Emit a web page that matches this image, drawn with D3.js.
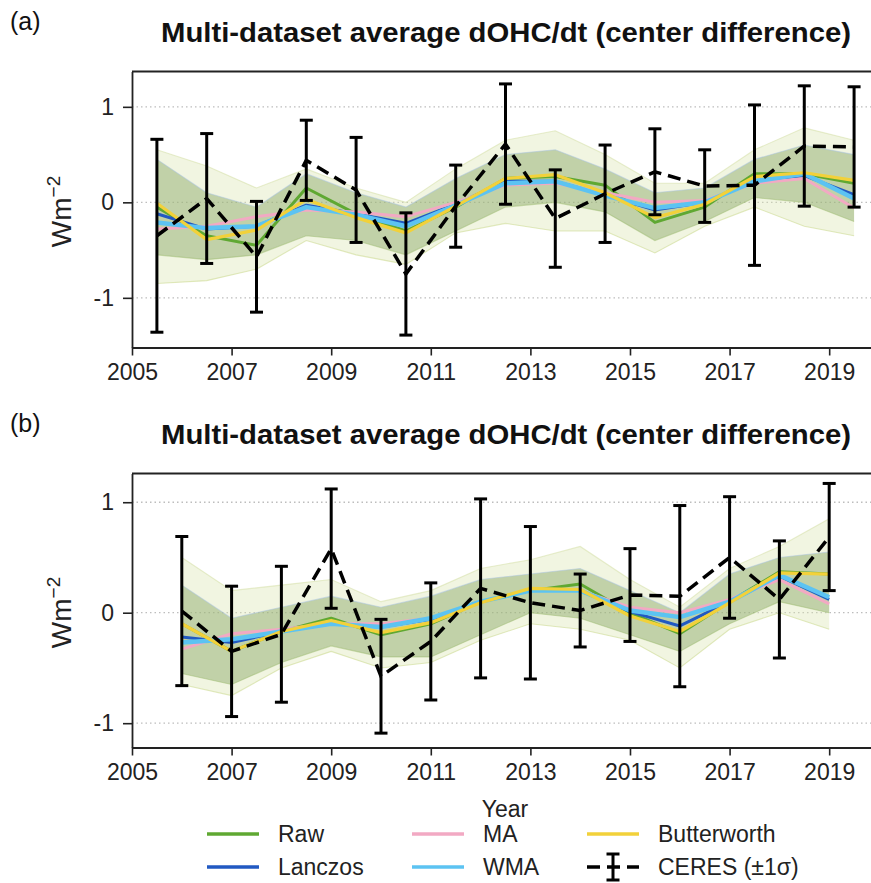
<!DOCTYPE html>
<html>
<head>
<meta charset="utf-8">
<script src="https://cdn.jsdelivr.net/npm/d3@7"></script>
<style>
  html, body { margin: 0; padding: 0; background: #fff; }
  svg { display: block; font-family: "Liberation Sans", Arial, sans-serif; }
</style>
</head>
<body>
<svg id="chart" width="871" height="883"></svg>
<script>
// ---- data ----
const yearsA = [2005.5, 2006.5, 2007.5, 2008.5, 2009.5, 2010.5, 2011.5, 2012.5, 2013.5, 2014.5, 2015.5, 2016.5, 2017.5, 2018.5, 2019.5];
const yearsB = [2006, 2007, 2008, 2009, 2010, 2011, 2012, 2013, 2014, 2015, 2016, 2017, 2018, 2019];

const rawA    = [-0.05, -0.35, -0.45, 0.15, -0.12, -0.30, -0.05, 0.25, 0.27, 0.18, -0.21, -0.05, 0.30, 0.30, 0.20];
const lanczA  = [-0.12, -0.28, -0.25, -0.03, -0.12, -0.22, -0.02, 0.22, 0.22, 0.08, -0.08, 0.00, 0.22, 0.28, 0.08];
const maA     = [-0.28, -0.25, -0.15, -0.08, -0.10, -0.15, 0.00, 0.18, 0.20, 0.10, 0.00, 0.02, 0.20, 0.25, -0.06];
const wmaA    = [-0.21, -0.27, -0.25, -0.05, -0.13, -0.25, -0.03, 0.20, 0.22, 0.07, -0.06, 0.00, 0.22, 0.30, 0.04];
const buttA   = [-0.01, -0.39, -0.29, 0.03, -0.16, -0.32, -0.04, 0.25, 0.29, 0.10, -0.16, -0.02, 0.27, 0.31, 0.23];
const ceresA  = [-0.35, 0.04, -0.57, 0.44, 0.13, -0.75, -0.04, 0.61, -0.17, 0.09, 0.32, 0.17, 0.18, 0.59, 0.58];
const sigmaA  = [1.01, 0.68, 0.58, 0.42, 0.55, 0.64, 0.43, 0.63, 0.51, 0.51, 0.45, 0.38, 0.84, 0.63, 0.63];
const innerLoA = [-0.55, -0.60, -0.55, -0.35, -0.40, -0.55, -0.30, -0.05, 0.00, -0.10, -0.40, -0.20, 0.05, 0.00, -0.20];
const innerHiA = [0.45, 0.10, -0.05, 0.30, 0.10, -0.05, 0.25, 0.50, 0.55, 0.35, 0.10, 0.15, 0.45, 0.60, 0.50];
const outerLoA = [-0.85, -0.82, -0.70, -0.40, -0.55, -0.65, -0.32, -0.22, -0.30, -0.30, -0.53, -0.25, -0.05, -0.25, -0.35];
const outerHiA = [0.55, 0.38, 0.15, 0.35, 0.15, 0.00, 0.35, 0.65, 0.75, 0.50, 0.20, 0.20, 0.55, 0.78, 0.65];

const rawB    = [-0.10, -0.35, -0.17, -0.05, -0.20, -0.10, 0.10, 0.20, 0.26, 0.00, -0.19, 0.10, 0.37, 0.35];
const lanczB  = [-0.22, -0.27, -0.17, -0.10, -0.13, -0.06, 0.10, 0.20, 0.20, 0.01, -0.12, 0.10, 0.33, 0.12];
const maB     = [-0.33, -0.19, -0.15, -0.10, -0.10, -0.05, 0.10, 0.20, 0.20, 0.05, 0.00, 0.12, 0.30, 0.08];
const wmaB    = [-0.27, -0.24, -0.17, -0.10, -0.13, -0.05, 0.10, 0.20, 0.20, 0.02, -0.04, 0.10, 0.34, 0.14];
const buttB   = [-0.10, -0.35, -0.17, -0.07, -0.18, -0.09, 0.09, 0.22, 0.21, -0.03, -0.17, 0.09, 0.36, 0.35];
const ceresB  = [0.015, -0.35, -0.195, 0.58, -0.575, -0.26, 0.22, 0.09, 0.02, 0.16, 0.15, 0.50, 0.12, 0.685];
const sigmaB  = [0.675, 0.59, 0.615, 0.54, 0.515, 0.53, 0.81, 0.69, 0.33, 0.42, 0.82, 0.55, 0.53, 0.485];
const innerLoB = [-0.55, -0.65, -0.45, -0.30, -0.40, -0.40, -0.20, 0.00, -0.05, -0.20, -0.35, -0.10, 0.10, 0.00];
const innerHiB = [0.25, -0.05, 0.05, 0.15, 0.05, 0.15, 0.30, 0.35, 0.40, 0.20, 0.00, 0.35, 0.50, 0.55];
const outerLoB = [-0.65, -0.75, -0.50, -0.35, -0.50, -0.45, -0.25, -0.10, -0.15, -0.25, -0.50, -0.15, 0.00, -0.15];
const outerHiB = [0.50, 0.20, 0.25, 0.30, 0.10, 0.20, 0.40, 0.48, 0.60, 0.30, 0.05, 0.40, 0.60, 0.85];

const xTicks = [2005, 2007, 2009, 2011, 2013, 2015, 2017, 2019];
const yTicks = [-1, 0, 1];
const title = 'Multi-dataset average dOHC/dt (center difference)';

const colors = {
    raw: '#5fa832',
    lanczos: '#2159c2',
    ma: '#f2a9c3',
    wma: '#5cc3f2',
    butter: '#f2d13a'
};

const svg = d3.select('#chart');

// shared x scale (right frame edge falls outside the picture)
const x = d3.scaleLinear().domain([2005, 2019.9]).range([132, 874]);

const panels = [
    { label: '(a)', top: 71.5, bottom: 347.5, domain: [-1.52, 1.37], years: yearsA,
      raw: rawA, lanczos: lanczA, ma: maA, wma: wmaA, butter: buttA,
      ceres: ceresA, sigma: sigmaA, inLo: innerLoA, inHi: innerHiA, outLo: outerLoA, outHi: outerHiA },
    { label: '(b)', top: 473.5, bottom: 747.5, domain: [-1.22, 1.26], years: yearsB,
      raw: rawB, lanczos: lanczB, ma: maB, wma: wmaB, butter: buttB,
      ceres: ceresB, sigma: sigmaB, inLo: innerLoB, inHi: innerHiB, outLo: outerLoB, outHi: outerHiB }
];

panels.forEach(p => {
    const y = d3.scaleLinear().domain(p.domain).range([p.bottom, p.top]);
    const g = svg.append('g');

    // panel label and title
    g.append('text').attr('x', 10).attr('y', p.top - 42)
        .attr('font-size', 25).attr('fill', '#111').text(p.label);
    g.append('text').attr('x', 506).attr('y', p.top - 30)
        .attr('text-anchor', 'middle').attr('font-size', 28).attr('font-weight', 'bold')
        .attr('textLength', 690).attr('lengthAdjust', 'spacingAndGlyphs')
        .attr('fill', '#111').text(title);

    // grid
    g.selectAll('.grid').data(yTicks).enter().append('line')
        .attr('x1', x.range()[0]).attr('x2', x.range()[1])
        .attr('y1', d => y(d)).attr('y2', d => y(d))
        .attr('stroke', '#bdbdbd').attr('stroke-width', 1.3).attr('stroke-dasharray', '1.5,3');

    const pts = p.years.map((yr, i) => i);

    // spread of individual datasets
    const area = (lo, hi) => d3.area().x(i => x(p.years[i])).y0(i => y(lo[i])).y1(i => y(hi[i]));
    g.append('path').attr('d', area(p.outLo, p.outHi)(pts))
        .attr('fill', '#dbe6b0').attr('opacity', 0.38);
    g.append('path').attr('d', area(p.inLo, p.inHi)(pts))
        .attr('fill', '#7fa05a').attr('opacity', 0.42);

    const line = vals => d3.line().x(i => x(p.years[i])).y(i => y(vals[i]))(pts);
    [[p.outLo, '#c5d682'], [p.outHi, '#d2deA0'], [p.inLo, '#9dbb70'], [p.inHi, '#a9c3e6']].forEach(([v, c]) => {
        g.append('path').attr('d', line(v)).attr('fill', 'none')
            .attr('stroke', c).attr('stroke-width', 1.1).attr('opacity', 0.5);
    });

    // method averages
    [['raw', 3], ['lanczos', 3], ['ma', 3], ['wma', 4.5], ['butter', 3.2]].forEach(([k, w]) => {
        g.append('path').attr('d', line(p[k])).attr('fill', 'none')
            .attr('stroke', colors[k]).attr('stroke-width', w).attr('stroke-linejoin', 'round');
    });

    // CERES with error bars
    g.append('path').attr('d', line(p.ceres)).attr('fill', 'none')
        .attr('stroke', '#000').attr('stroke-width', 3.5).attr('stroke-dasharray', '13,7');
    const eb = g.selectAll('.eb').data(pts).enter().append('g');
    eb.append('line')
        .attr('x1', i => x(p.years[i])).attr('x2', i => x(p.years[i]))
        .attr('y1', i => y(p.ceres[i] - p.sigma[i])).attr('y2', i => y(p.ceres[i] + p.sigma[i]))
        .attr('stroke', '#000').attr('stroke-width', 3);
    [-1, 1].forEach(s => {
        eb.append('line')
            .attr('x1', i => x(p.years[i]) - 6.5).attr('x2', i => x(p.years[i]) + 6.5)
            .attr('y1', i => y(p.ceres[i] + s * p.sigma[i])).attr('y2', i => y(p.ceres[i] + s * p.sigma[i]))
            .attr('stroke', '#000').attr('stroke-width', 3);
    });

    // frame: top and left
    g.append('line').attr('x1', x.range()[0]).attr('x2', x.range()[1])
        .attr('y1', p.top).attr('y2', p.top).attr('stroke', '#222').attr('stroke-width', 1.8);

    // axes
    const xAxis = d3.axisBottom(x).tickValues(xTicks).tickFormat(d3.format('d'))
        .tickSizeInner(8).tickSizeOuter(0).tickPadding(8);
    const xg = g.append('g').attr('transform', `translate(0,${p.bottom})`).call(xAxis);
    const yAxis = d3.axisLeft(y).tickValues(yTicks).tickFormat(d => d < 0 ? '-' + Math.abs(d) : d)
        .tickSizeInner(9).tickSizeOuter(0).tickPadding(9);
    const yg = g.append('g').attr('transform', `translate(${x.range()[0]},0)`).call(yAxis);
    [xg, yg].forEach(ax => {
        ax.select('.domain').attr('stroke', '#222').attr('stroke-width', 1.8);
        ax.selectAll('.tick line').attr('stroke', '#222').attr('stroke-width', 1.6);
        ax.selectAll('.tick text').attr('font-size', 23).attr('fill', '#222')
            .attr('font-family', '"Liberation Sans", Arial, sans-serif');
    });

    // y label
    const yl = g.append('text')
        .attr('transform', `translate(71,${(p.top + p.bottom) / 2 + 2}) rotate(-90)`)
        .attr('text-anchor', 'middle').attr('font-size', 28).attr('fill', '#222');
    yl.append('tspan').text('Wm');
    yl.append('tspan').attr('dy', -11).attr('font-size', 19).text('\u22122');
});

// x axis title (sits just above the middle legend column, as in the figure)
svg.append('text').attr('x', 505).attr('y', 817).attr('text-anchor', 'middle')
    .attr('font-size', 23).attr('fill', '#222').text('Year');

// legend
const legendItems = [
    { name: 'Raw', key: 'raw', col: 0, row: 0 },
    { name: 'Lanczos', key: 'lanczos', col: 0, row: 1 },
    { name: 'MA', key: 'ma', col: 1, row: 0 },
    { name: 'WMA', key: 'wma', col: 1, row: 1 },
    { name: 'Butterworth', key: 'butter', col: 2, row: 0 },
    { name: 'CERES (\u00b11\u03c3)', key: 'ceres', col: 2, row: 1 }
];
const colX = [207, 412, 587];
const rowY = [834, 867];
const lg = svg.append('g');
legendItems.forEach(it => {
    const x0 = colX[it.col], y0 = rowY[it.row];
    if (it.key === 'ceres') {
        lg.append('line').attr('x1', x0).attr('x2', x0 + 52).attr('y1', y0).attr('y2', y0)
            .attr('stroke', '#000').attr('stroke-width', 3.5).attr('stroke-dasharray', '13,7');
        const cx = x0 + 26;
        lg.append('line').attr('x1', cx).attr('x2', cx).attr('y1', y0 - 13).attr('y2', y0 + 13)
            .attr('stroke', '#000').attr('stroke-width', 3);
        [-13, 13].forEach(d => lg.append('line').attr('x1', cx - 6.5).attr('x2', cx + 6.5)
            .attr('y1', y0 + d).attr('y2', y0 + d).attr('stroke', '#000').attr('stroke-width', 3));
    } else {
        lg.append('line').attr('x1', x0).attr('x2', x0 + 52).attr('y1', y0).attr('y2', y0)
            .attr('stroke', colors[it.key]).attr('stroke-width', 3.5);
    }
    lg.append('text').attr('x', x0 + 71).attr('y', y0 + 8)
        .attr('font-size', 23).attr('fill', '#222').text(it.name);
});
</script>
</body>
</html>
